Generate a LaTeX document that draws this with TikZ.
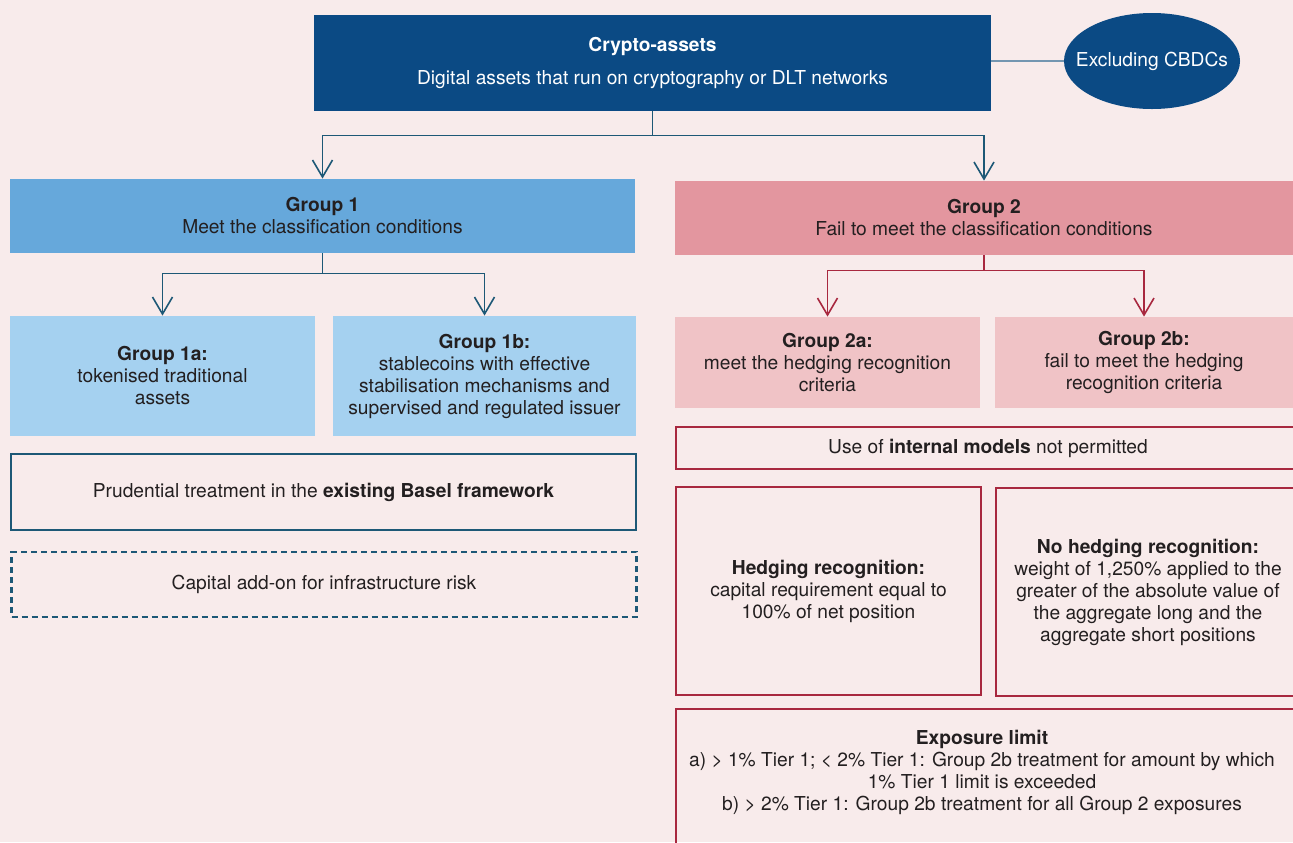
\documentclass[tikz,border=0pt]{standalone}
\usepackage{fontspec}
\setmainfont{TeX Gyre Heros}
\usetikzlibrary{arrows.meta,shapes.geometric}

\definecolor{bgpink}{HTML}{F8EBEB}
\definecolor{cryptoblue}{HTML}{0B4A84}
\definecolor{lineblue}{HTML}{1D5876}
\definecolor{greyblue}{HTML}{7496B1}
\definecolor{groupone}{HTML}{66A8DB}
\definecolor{grouponesub}{HTML}{A5D1F0}
\definecolor{grouptwo}{HTML}{E3969F}
\definecolor{grouptwosub}{HTML}{F0C3C6}
\definecolor{linered}{HTML}{A8283F}
\definecolor{textdark}{HTML}{231F20}

\begin{document}
\begin{tikzpicture}[x=0.5pt, y=-0.5pt, inner sep=0pt, align=center,
    font=\fontsize{9.6}{11}\selectfont]
    \tikzstyle{top_style} = [rectangle, fill=cryptoblue, text=white]
    \tikzstyle{cbdc_style} = [ellipse, fill=cryptoblue, text=white, inner xsep=-7pt, minimum width=88pt, minimum height=48pt]
    \tikzstyle{g1_style} = [rectangle, fill=groupone, text=textdark, minimum width=312.5pt, minimum height=37pt]
    \tikzstyle{g1sub_style} = [rectangle, fill=grouponesub, text=textdark, minimum height=60pt]
    \tikzstyle{g2_style} = [rectangle, fill=grouptwo, text=textdark, minimum width=309pt, minimum height=37pt]
    \tikzstyle{g2sub_style} = [rectangle, fill=grouptwosub, text=textdark, minimum height=45.5pt]
    \tikzstyle{blue_frame} = [rectangle, draw=lineblue, line width=1.2pt, text=textdark, minimum width=312.5pt]
    \tikzstyle{red_frame} = [rectangle, draw=linered, line width=1.2pt, text=textdark]
    \tikzstyle{blue_arrow} = [draw=lineblue, line width=0.8pt, -{Straight Barb[length=8.5pt,width=10pt]}]
    \tikzstyle{red_arrow} = [draw=linered, line width=0.8pt, -{Straight Barb[length=8.5pt,width=10pt]}]

    \path[use as bounding box, fill=bgpink] (0,0) rectangle (1293,842);
    \clip (0,0) rectangle (1293,842);

    % top level
    \node[top_style, minimum width=338.5pt, minimum height=48pt] (crypto) at (652.5,63)
        {\textbf{Crypto-assets}\\[5.5pt]Digital assets that run on cryptography or DLT networks};
    \node[cbdc_style] (cbdc) at (1152,61) {Excluding CBDCs};

    % group 1
    \node[g1_style] (g1) at (322.5,216) {\textbf{Group 1}\\Meet the classification conditions};
    \node[g1sub_style, minimum width=152.5pt] (g1a) at (162.5,376)
        {\textbf{Group 1a:}\\tokenised traditional\\assets};
    \node[g1sub_style, minimum width=151.5pt] (g1b) at (484.5,376)
        {\textbf{Group 1b:}\\stablecoins with effective\\stabilisation mechanisms and\\supervised and regulated issuer};
    \node[blue_frame, minimum height=38pt] (basel) at (323.5,492)
        {Prudential treatment in the \textbf{existing Basel framework}};
    \node[blue_frame, dash pattern=on 3pt off 2pt, minimum height=32.5pt] (addon) at (324,584.5)
        {Capital add-on for infrastructure risk};

    % group 2
    \node[g2_style] (g2) at (984,218) {\textbf{Group 2}\\Fail to meet the classification conditions};
    \node[g2sub_style, minimum width=152.5pt] (g2a) at (827.5,362.5)
        {\textbf{Group 2a:}\\meet the hedging recognition\\criteria};
    \node[g2sub_style, minimum width=149pt] (g2b) at (1144,362.5)
        {\textbf{Group 2b:}\\fail to meet the hedging\\recognition criteria};
    \node[red_frame, minimum width=312pt, minimum height=21pt] (internal) at (988,448)
        {Use of \textbf{internal models} not permitted};
    \node[red_frame, minimum width=152.5pt, minimum height=104pt] (hedge) at (828.5,591)
        {\textbf{Hedging recognition:}\\capital requirement equal to\\100\% of net position};
    \node[red_frame, minimum width=152pt, minimum height=104pt] (nohedge) at (1148,592)
        {\textbf{No hedging recognition:}\\weight of 1,250\% applied to the\\greater of the absolute value of\\the aggregate long and the\\aggregate short positions};
    \node[red_frame, minimum width=312pt, minimum height=75.5pt] (exposure) at (988,784.5) {};
    \node[text=textdark] (exposure_text) at (982,772.5)
        {\textbf{Exposure limit}\\a) > 1\% Tier 1; < 2\% Tier 1: Group 2b treatment for amount by which\\1\% Tier 1 limit is exceeded\\b) > 2\% Tier 1: Group 2b treatment for all Group 2 exposures};

    % connectors
    \draw[greyblue, line width=0.6pt] (crypto.east |- cbdc.west) -- (cbdc.west);
    \draw[draw=lineblue, line width=0.8pt] (crypto.south) -- ++(0,24) coordinate (split_top);
    \draw[blue_arrow] (split_top) -| (g1.north);
    \draw[blue_arrow] (split_top) -| (g2.north);
    \draw[draw=lineblue, line width=0.8pt] (g1.south) -- ++(0,20) coordinate (split_g1);
    \draw[blue_arrow] (split_g1) -| (g1a.north);
    \draw[blue_arrow] (split_g1) -| (g1b.north);
    \draw[draw=linered, line width=0.8pt] (g2.south) -- ++(0,15) coordinate (split_g2);
    \draw[red_arrow] (split_g2) -| (g2a.north);
    \draw[red_arrow] (split_g2) -| (g2b.north);
\end{tikzpicture}
\end{document}
